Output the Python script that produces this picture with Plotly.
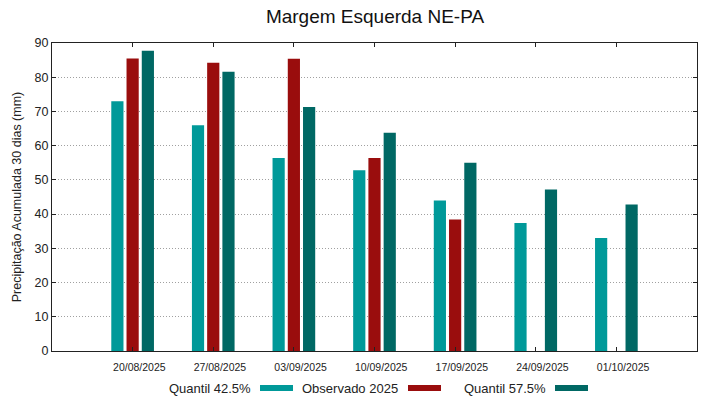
import plotly.graph_objects as go

dates = ["20/08/2025", "27/08/2025", "03/09/2025", "10/09/2025",
         "17/09/2025", "24/09/2025", "01/10/2025"]
q425 = [73.0, 66.0, 56.4, 52.8, 44.0, 37.4, 33.0]
obs2025 = [85.5, 84.2, 85.4, 56.4, 38.4, None, None]
q575 = [87.7, 81.6, 71.3, 63.8, 55.0, 47.2, 42.8]
series_names = ["Quantil 42.5%", "Observado 2025", "Quantil 57.5%"]
colors = ["#009999", "#9a0d0d", "#006864"]
yticks = list(range(0, 91, 10))

xi = list(range(len(dates)))

fig = go.Figure()
for name, vals, col in zip(series_names, [q425, obs2025, q575], colors):
    fig.add_trace(go.Bar(x=xi, y=vals, name=name, marker_color=col,
                         marker_line_width=0, showlegend=False))

# label axis (labels slightly right of ticks, as in reference)
fig.add_trace(go.Scatter(x=[x + 0.083 for x in xi], y=[None] * len(xi),
                         xaxis="x2", showlegend=False, hoverinfo="skip"))

PL, PR, PT, PB = 52, 22, 43, 48
W, H = 719, 399
fig.update_layout(
    width=W, height=H,
    margin=dict(l=PL, r=PR, t=PT, b=PB, autoexpand=False),
    paper_bgcolor="white", plot_bgcolor="white",
    font=dict(family="Liberation Sans, Arial, sans-serif", color="#222"),
    title=dict(text="Margem Esquerda NE-PA", x=375 / W, xanchor="center",
               y=1 - 16 / H, yanchor="middle",
               font=dict(size=19, color="#111")),
    barmode="group", bargap=0.433, bargroupgap=0.2,
    xaxis=dict(range=[-1, 7], tickvals=xi, showticklabels=False,
               ticks="inside", ticklen=4, tickcolor="#222", mirror="ticks",
               showline=True, linecolor="#222", linewidth=1,
               showgrid=False, zeroline=False),
    xaxis2=dict(range=[-1, 7], overlaying="x", anchor="y", side="bottom",
                tickvals=[x + 0.083 for x in xi], ticktext=dates,
                ticks="", showline=False, showgrid=False, zeroline=False,
                tickfont=dict(size=10.5, color="#222"), ticklabelstandoff=8),
    yaxis=dict(range=[0, 90], tickvals=yticks, ticks="inside", ticklen=4,
               tickcolor="#222", mirror="ticks", showline=True,
               linecolor="#222", linewidth=1, showgrid=True,
               gridcolor="#a0a0a0", griddash="1px,2px", gridwidth=1,
               zeroline=False, tickfont=dict(size=12.5, color="#222"),
               title=dict(text="Precipitação Acumulada 30 dias (mm)",
                          font=dict(size=12.5, color="#222"), standoff=10)),
)

# gnuplot-style legend: text then sample line (page pixel positions)
pw = W - PL - PR
ph = H - PT - PB
def px_to_paper_x(p):
    return (p - PL) / pw
def px_to_paper_y(p):
    return (H - PB - p) / ph

text_right = [253, 400, 548]
sample_left = [260, 408, 555]
ly = 388
for name, col, tr, sl in zip(series_names, colors, text_right, sample_left):
    fig.add_annotation(x=px_to_paper_x(tr), y=px_to_paper_y(ly), xref="paper",
                       yref="paper", text=name, showarrow=False,
                       xanchor="right", yanchor="middle",
                       font=dict(size=13, color="#222"))
    fig.add_shape(type="line", xref="paper", yref="paper",
                  x0=px_to_paper_x(sl), x1=px_to_paper_x(sl + 33),
                  y0=px_to_paper_y(ly), y1=px_to_paper_y(ly),
                  line=dict(color=col, width=6))

fig.write_html("out.html",
               config={"displayModeBar": False},
               post_script="document.body.style.margin='0';"
                           "document.body.style.overflow='hidden';")
